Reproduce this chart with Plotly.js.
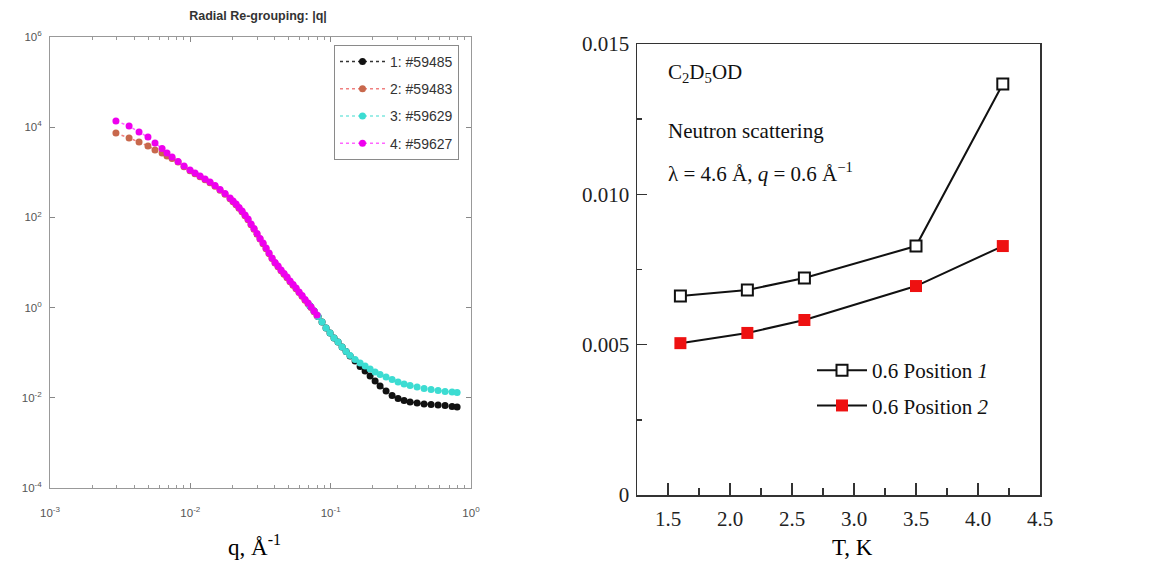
<!DOCTYPE html>
<html>
<head>
<meta charset="utf-8">
<script src="https://cdn.plot.ly/plotly-3.0.1.min.js"></script>
<style>html,body{margin:0;padding:0;background:#fff;}#chart{width:1166px;height:562px;}</style>
</head>
<body>
<div id="chart"></div>
<script>
// ---------- Left panel: SANS curves, I(q) on log-log axes ----------
const seriesNames = ['1: #59485', '2: #59483', '3: #59629', '4: #59627'];

const qLow = [0.00295, 0.00366, 0.00431, 0.00499, 0.00560, 0.00629, 0.00682, 0.00741, 0.00818, 0.00902,
  0.00995, 0.01080, 0.01173, 0.01273, 0.01381, 0.01500, 0.01628, 0.01768, 0.01919, 0.02016,
  0.02117, 0.02223, 0.02336, 0.02454, 0.02578, 0.02708, 0.02844, 0.02987, 0.03138, 0.03298,
  0.03464, 0.03638, 0.03822, 0.04015, 0.04217, 0.04430, 0.04654, 0.04889, 0.05135, 0.05395,
  0.05667, 0.05953, 0.06254, 0.06569, 0.06901, 0.07249, 0.07615, 0.07998];

const i59483 = [7436, 5761, 4696, 3830, 3123, 2679, 2298, 2023, 1692, 1330,
  1085, 930, 800, 686, 588, 492, 402, 327, 260, 223,
  191, 160, 134, 109, 89, 69, 54.8, 42.5, 33.0, 26.2,
  20.3, 15.7, 12.2, 9.7, 8.08, 6.6, 5.5, 4.6, 3.76, 3.14,
  2.63, 2.15, 1.79, 1.46, 1.22, 1.0, 0.81, 0.66];

const i59627 = [13700, 10630, 7830, 6064, 4464, 3371, 2679, 2184, 1736, 1379,
  1125, 965, 828, 710, 609, 510, 416, 339, 269, 231,
  198, 166, 139, 113, 92.1, 71.4, 56.7, 44.0, 34.1, 27.1,
  20.96, 16.24, 12.58, 10.0, 8.36, 6.82, 5.70, 4.77, 3.89, 3.25,
  2.72, 2.22, 1.855, 1.512, 1.265, 1.031, 0.841, 0.685];

const qHigh = [0.0713, 0.0762, 0.0813, 0.0868, 0.0927, 0.0990, 0.1057, 0.1129, 0.1206, 0.1288,
  0.1375, 0.1493, 0.1621, 0.1759, 0.1910, 0.2073, 0.2250, 0.2482, 0.2740, 0.3022,
  0.3336, 0.3681, 0.4128, 0.4630, 0.5194, 0.5828, 0.6536, 0.7333, 0.7962];

const i59485 = [1.085, 0.841, 0.635, 0.4795, 0.353, 0.2734, 0.2118, 0.1727, 0.1338, 0.1063,
  0.0845, 0.0654, 0.0494, 0.0393, 0.0305, 0.0236, 0.0183, 0.01415, 0.01125, 0.00965,
  0.00871, 0.00807, 0.00767, 0.00729, 0.00710, 0.00692, 0.00675, 0.00641, 0.00625];

const i59629 = [1.085, 0.841, 0.635, 0.4795, 0.353, 0.2734, 0.2118, 0.1727, 0.1338, 0.1063,
  0.0867, 0.0707, 0.0591, 0.0507, 0.0435, 0.0373, 0.0329, 0.0289, 0.0254, 0.0224,
  0.0202, 0.0187, 0.0174, 0.0161, 0.0153, 0.0145, 0.0138, 0.0134, 0.0131];

const logXTicks = [0.001, 0.01, 0.1, 1];
const logXLabels = ['10<sup>-3</sup>', '10<sup>-2</sup>', '10<sup>-1</sup>', '10<sup>0</sup>'];
const logYTicks = [1e-4, 1e-2, 1, 1e2, 1e4, 1e6];
const logYLabels = ['10<sup>-4</sup>', '10<sup>-2</sup>', '10<sup>0</sup>', '10<sup>2</sup>', '10<sup>4</sup>', '10<sup>6</sup>'];

// ---------- Right panel: parameter vs temperature ----------
const temperature = [1.6, 2.14, 2.6, 3.5, 4.2];
const position1 = [0.00662, 0.00682, 0.00722, 0.00828, 0.01367];
const position2 = [0.00505, 0.00539, 0.00582, 0.00695, 0.00828];
const rightNames = ['0.6 Position <i>1</i>', '0.6 Position <i>2</i>'];
const tTicks = [1.5, 2.0, 2.5, 3.0, 3.5, 4.0, 4.5];
const tLabels = ['1.5', '2.0', '2.5', '3.0', '3.5', '4.0', '4.5'];
const yTicks = [0, 0.005, 0.010, 0.015];
const yLabels = ['0', '0.005', '0.010', '0.015'];

const W = 1166, H = 562;
const serif = 'Liberation Serif, Times New Roman, serif';
const sans = 'Liberation Sans, Arial, sans-serif';

function sansTrace(x, y, name, lineColor, markerColor, grp) {
  return {
    x: x, y: y, name: name, type: 'scatter', mode: 'lines+markers',
    xaxis: 'x', yaxis: 'y', legend: 'legend', legendgroup: grp,
    line: {color: lineColor, width: 1.5, dash: 'dot'},
    marker: {color: markerColor, size: 7, symbol: 'circle'}
  };
}

const traces = [
  sansTrace(qHigh, i59485, seriesNames[0], '#333333', '#111111', 'g1'),
  sansTrace(qLow, i59483, seriesNames[1], '#f08080', '#c8684c', 'g2'),
  sansTrace(qHigh, i59629, seriesNames[2], '#7fe8e0', '#3cdcd2', 'g3'),
  sansTrace(qLow, i59627, seriesNames[3], '#ff66ff', '#ee00ee', 'g4'),
  {
    x: temperature, y: position1, name: rightNames[0], type: 'scatter', mode: 'lines+markers',
    xaxis: 'x2', yaxis: 'y2', legend: 'legend2', legendgroup: 'p1',
    line: {color: '#111', width: 2},
    marker: {symbol: 'square', size: 11, color: '#ffffff', line: {color: '#111', width: 2}}
  },
  {
    x: temperature, y: position2, name: rightNames[1], type: 'scatter', mode: 'lines+markers',
    xaxis: 'x2', yaxis: 'y2', legend: 'legend2', legendgroup: 'p2',
    line: {color: '#111', width: 2},
    marker: {symbol: 'square', size: 12, color: '#ee1111', line: {color: '#ee1111', width: 0}}
  }
];

const layout = {
  width: W, height: H,
  margin: {l: 0, r: 0, t: 0, b: 0},
  paper_bgcolor: '#ffffff', plot_bgcolor: '#ffffff',
  showlegend: true,
  title: {
    text: 'Radial Re-grouping: |q|',
    x: 258 / W, xanchor: 'center', y: 1 - 16 / H, yanchor: 'middle',
    font: {family: sans, size: 12.5, color: '#333', weight: 'bold'}
  },
  xaxis: {
    domain: [50 / W, 471 / W], anchor: 'y', type: 'log', range: [-3, 0],
    tickmode: 'array', tickvals: logXTicks, ticktext: logXLabels,
    ticks: 'inside', ticklen: 5, tickcolor: '#888', mirror: 'ticks',
    showline: true, linecolor: '#999', linewidth: 1, showgrid: false, zeroline: false,
    tickfont: {family: sans, size: 11.5, color: '#555'}, ticklabelstandoff: 14,
    minor: {tickmode: 'array',
      tickvals: [0.002, 0.003, 0.004, 0.005, 0.006, 0.007, 0.008, 0.009, 0.02, 0.03, 0.04, 0.05, 0.06, 0.07, 0.08, 0.09, 0.2, 0.3, 0.4, 0.5, 0.6, 0.7, 0.8, 0.9],
      ticks: 'inside', ticklen: 3, tickcolor: '#999', showgrid: false}
  },
  yaxis: {
    domain: [1 - 488 / H, 1 - 37 / H], anchor: 'x', type: 'log', range: [-4, 6],
    tickmode: 'array', tickvals: logYTicks, ticktext: logYLabels,
    ticks: 'inside', ticklen: 5, tickcolor: '#888', mirror: 'ticks',
    showline: true, linecolor: '#999', linewidth: 1, showgrid: false, zeroline: false,
    tickfont: {family: sans, size: 11.5, color: '#555'}, ticklabelstandoff: 5
  },
  xaxis2: {
    domain: [637 / W, 1040 / W], anchor: 'y2', range: [1.25, 4.5],
    tickmode: 'array', tickvals: tTicks, ticktext: tLabels,
    ticks: 'inside', ticklen: 12, tickwidth: 1.5, tickcolor: '#333',
    showline: true, mirror: true, linecolor: '#333', linewidth: 1.5,
    showgrid: false, zeroline: false,
    tickfont: {family: serif, size: 21, color: '#222'}, ticklabelstandoff: 4,
    minor: {tickmode: 'array', tickvals: [1.25, 1.75, 2.25, 2.75, 3.25, 3.75, 4.25],
      ticks: 'inside', ticklen: 7, tickwidth: 1.5, tickcolor: '#333', showgrid: false}
  },
  yaxis2: {
    domain: [1 - 495 / H, 1 - 44 / H], anchor: 'x2', range: [0, 0.015],
    tickmode: 'array', tickvals: yTicks, ticktext: yLabels,
    ticks: 'inside', ticklen: 10, tickwidth: 1.5, tickcolor: '#333',
    showline: true, mirror: true, linecolor: '#333', linewidth: 1.5,
    showgrid: false, zeroline: false,
    tickfont: {family: serif, size: 21, color: '#222'}, ticklabelstandoff: 2,
    minor: {tickmode: 'array', tickvals: [0.0025, 0.0075, 0.0125],
      ticks: 'inside', ticklen: 5, tickwidth: 1.5, tickcolor: '#333', showgrid: false}
  },
  legend: {
    x: 334 / W, y: 1 - 45 / H, xanchor: 'left', yanchor: 'top',
    bgcolor: '#ffffff', bordercolor: '#8a8a8a', borderwidth: 1,
    font: {family: sans, size: 14, color: '#333'},
    tracegroupgap: 6, itemwidth: 45
  },
  legend2: {
    x: 812 / W, y: 1 - 350 / H, xanchor: 'left', yanchor: 'top',
    bgcolor: 'rgba(0,0,0,0)', borderwidth: 0,
    font: {family: serif, size: 21, color: '#111'},
    tracegroupgap: 5, itemwidth: 50
  },
  annotations: [
    {xref: 'paper', yref: 'paper', x: 666 / W, y: 1 - 73 / H, xanchor: 'left', yanchor: 'middle',
      showarrow: false, text: 'C<sub>2</sub>D<sub>5</sub>OD', font: {family: serif, size: 21, color: '#111'}},
    {xref: 'paper', yref: 'paper', x: 666 / W, y: 1 - 131 / H, xanchor: 'left', yanchor: 'middle',
      showarrow: false, text: 'Neutron scattering', font: {family: serif, size: 21, color: '#111'}},
    {xref: 'paper', yref: 'paper', x: 666 / W, y: 1 - 173 / H, xanchor: 'left', yanchor: 'middle',
      showarrow: false, text: 'λ = 4.6 Å, <i>q</i> = 0.6 Å<sup>−1</sup>', font: {family: serif, size: 21, color: '#111'}},
    {xref: 'paper', yref: 'paper', x: 254 / W, y: 1 - 545 / H, xanchor: 'center', yanchor: 'middle',
      showarrow: false, text: 'q, Å<sup>-1</sup>', font: {family: serif, size: 23, color: '#000'}},
    {xref: 'paper', yref: 'paper', x: 852 / W, y: 1 - 547 / H, xanchor: 'center', yanchor: 'middle',
      showarrow: false, text: 'T, K', font: {family: serif, size: 23, color: '#000'}}
  ]
};

Plotly.newPlot('chart', traces, layout, {staticPlot: true, displayModeBar: false});
</script>
</body>
</html>
